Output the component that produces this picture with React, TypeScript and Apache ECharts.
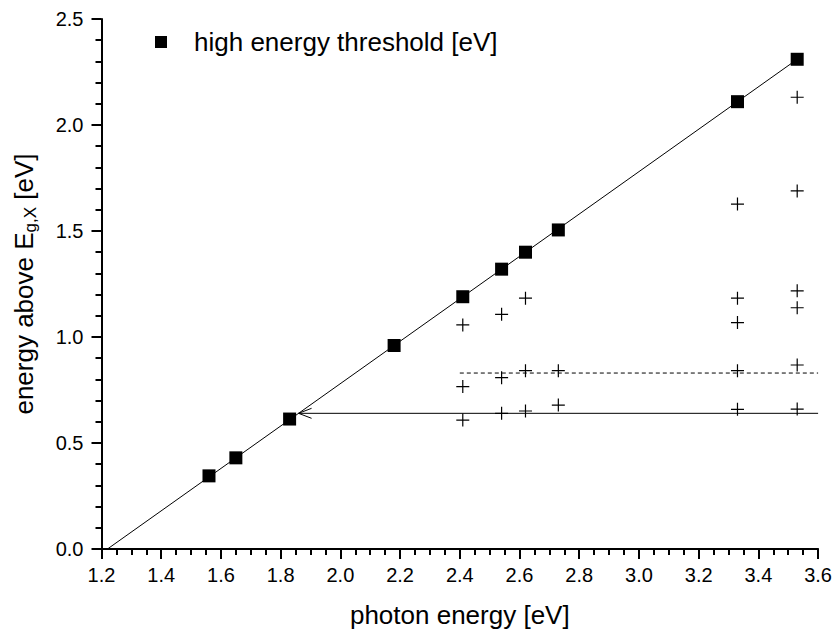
import React, { useEffect, useRef } from "react";
import * as echarts from "echarts";

// Square markers: high energy threshold [eV]
const thresholdX = [1.56, 1.65, 1.83, 2.18, 2.41, 2.54, 2.62, 2.73, 3.33, 3.53];
const thresholdY = [0.345, 0.43, 0.613, 0.96, 1.19, 1.32, 1.40, 1.505, 2.11, 2.31];

// Cross markers
const crossX = [
  2.41, 2.41, 2.41,
  2.54, 2.54, 2.54,
  2.62, 2.62, 2.62,
  2.73, 2.73,
  3.33, 3.33, 3.33, 3.33, 3.33,
  3.53, 3.53, 3.53, 3.53, 3.53, 3.53,
];
const crossY = [
  1.057, 0.766, 0.608,
  1.107, 0.808, 0.640,
  1.183, 0.841, 0.651,
  0.841, 0.679,
  1.627, 1.183, 1.068, 0.841, 0.659,
  2.131, 1.689, 1.218, 1.138, 0.868, 0.660,
];

// Linear fit line endpoints
const fitX = [1.22, 3.53];
const fitY = [0.0, 2.31];

// Dashed horizontal level
const dashedX = [2.4, 3.6];
const dashedLevel = 0.83;

// Arrow: from right edge to the fit line
const arrowFromX = 3.6;
const arrowToX = 1.86;
const arrowLevel = 0.64;

const xTicks = { min: 1.2, max: 3.6, interval: 0.2 };
const yTicks = { min: 0, max: 2.5, interval: 0.5 };

const FONT = "'Liberation Sans', Arial, sans-serif";

export default function App() {
  const ref = useRef<HTMLDivElement>(null);
  useEffect(() => {
    if (!ref.current) return;
    const chart = echarts.init(ref.current, undefined, { renderer: "svg" });
    const squares = thresholdX.map((x, i) => [x, thresholdY[i]]);
    const crosses = crossX.map((x, i) => [x, crossY[i]]);
    const fit = fitX.map((x, i) => [x, fitY[i]]);
    const dashed = dashedX.map((x) => [x, dashedLevel]);

    chart.setOption({
      animation: false,
      backgroundColor: "#fff",
      textStyle: { fontFamily: FONT, color: "#000" },
      grid: { left: 101, top: 19, width: 718, height: 530, containLabel: false },
      legend: {
        left: 150,
        top: 24,
        itemWidth: 12,
        itemHeight: 12,
        data: ["high energy threshold [eV]"],
        textStyle: { fontFamily: FONT, fontSize: 26, color: "#000", padding: [0, 0, 0, 22] },
      },
      xAxis: {
        type: "value",
        min: xTicks.min,
        max: xTicks.max,
        interval: xTicks.interval,
        name: "photon energy [eV]",
        nameLocation: "middle",
        nameGap: 53,
        nameTextStyle: { fontFamily: FONT, fontSize: 26, color: "#000" },
        axisLine: { onZero: false, lineStyle: { color: "#000", width: 2 } },
        axisTick: { show: true, inside: false, length: 10, lineStyle: { color: "#000", width: 2 } },
        minorTick: { show: true, splitNumber: 4, length: 6, lineStyle: { color: "#000", width: 2 } },
        axisLabel: {
          fontFamily: FONT,
          fontSize: 20,
          color: "#000",
          margin: 16,
          formatter: (v: number) => v.toFixed(1),
        },
        splitLine: { show: false },
      },
      yAxis: {
        type: "value",
        min: yTicks.min,
        max: yTicks.max,
        interval: yTicks.interval,
        name: "{a|energy above E}{b|g,X}{a| [eV]}",
        nameLocation: "middle",
        nameRotate: 90,
        nameGap: 63,
        nameTextStyle: {
          fontFamily: FONT,
          color: "#000",
          rich: {
            a: { fontFamily: FONT, fontSize: 26, color: "#000", lineHeight: 30 },
            b: { fontFamily: FONT, fontSize: 17, color: "#000", lineHeight: 30, padding: [14, 0, 0, 0] },
          },
        },
        axisLine: { onZero: false, lineStyle: { color: "#000", width: 2 } },
        axisTick: { show: true, inside: false, length: 10, lineStyle: { color: "#000", width: 2 } },
        minorTick: { show: true, splitNumber: 5, length: 6, lineStyle: { color: "#000", width: 2 } },
        axisLabel: {
          fontFamily: FONT,
          fontSize: 20,
          color: "#000",
          margin: 18,
          formatter: (v: number) => v.toFixed(1),
        },
        splitLine: { show: false },
      },
      series: [
        {
          type: "line",
          name: "fit",
          data: fit,
          symbol: "none",
          lineStyle: { color: "#000", width: 1 },
          z: 2,
        },
        {
          type: "line",
          name: "dashed",
          data: dashed,
          symbol: "none",
          lineStyle: { color: "#000", width: 1, type: [4, 3] },
          z: 2,
        },
        {
          type: "custom",
          name: "arrow",
          data: [[arrowFromX, arrowLevel, arrowToX]],
          renderItem: (params: any, api: any) => {
            const start = api.coord([api.value(0), api.value(1)]);
            const end = api.coord([api.value(2), api.value(1)]);
            return {
              type: "group",
              children: [
                {
                  type: "line",
                  shape: { x1: start[0], y1: start[1], x2: end[0], y2: end[1] },
                  style: { stroke: "#000", lineWidth: 1 },
                },
                {
                  type: "polyline",
                  shape: {
                    points: [
                      [end[0] + 13, end[1] - 5],
                      [end[0], end[1]],
                      [end[0] + 13, end[1] + 5],
                    ],
                  },
                  style: { stroke: "#000", lineWidth: 1, fill: "none" },
                },
              ],
            };
          },
          z: 2,
        },
        {
          type: "scatter",
          name: "crosses",
          data: crosses,
          symbol: "path://M0,6L12,6M6,0L6,12",
          symbolSize: 13,
          itemStyle: { color: "transparent", borderColor: "#000", borderWidth: 1.2, opacity: 1 },
          z: 3,
        },
        {
          type: "scatter",
          name: "high energy threshold [eV]",
          data: squares,
          symbol: "rect",
          symbolSize: 13,
          itemStyle: { color: "#000", opacity: 1 },
          z: 4,
        },
      ],
    });
    return () => chart.dispose();
  }, []);
  return (
    <div
      ref={ref}
      style={{ position: "absolute", left: 0, top: 0, width: 835, height: 635 }}
    />
  );
}
